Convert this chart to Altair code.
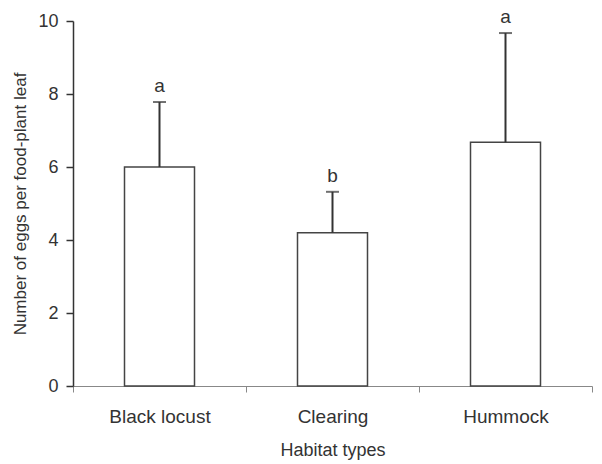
import altair as alt
import pandas as pd

habitats = ["Black locust", "Clearing", "Hummock"]
means = [6.0, 4.2, 6.68]
uppers = [7.78, 5.32, 9.67]
letters = ["a", "b", "a"]

df = pd.DataFrame({"habitat": habitats, "mean": means, "upper": uppers, "letter": letters})

FONT = "Liberation Sans"
TXT = "#333333"

common = dict(labelFont=FONT, titleFont=FONT, labelColor=TXT, titleColor=TXT,
              titleFontWeight="normal")

x = alt.X("habitat:N", sort=habitats, title="Habitat types",
          scale=alt.Scale(paddingInner=0, paddingOuter=0),
          axis=alt.Axis(labelAngle=0, tickBand="extent", domainColor="#888888",
                        tickColor="#888888", tickSize=6, labelPadding=15,
                        titlePadding=15, labelFontSize=19, titleFontSize=18, **common))
yscale = alt.Scale(domain=[0, 10], nice=False)

base = alt.Chart(df)

bars = base.mark_bar(fill="white", stroke="#444444", strokeWidth=1.5, width=70).encode(
    x=x,
    y=alt.Y("mean:Q", scale=yscale, title="Number of eggs per food-plant leaf",
            axis=alt.Axis(values=[0, 2, 4, 6, 8, 10], grid=False, domainColor="#333333",
                          domainWidth=1.5, tickColor="#333333", tickWidth=1.5, tickSize=7,
                          labelPadding=8, titlePadding=8, labelFontSize=18,
                          titleFontSize=17, **common)),
)

err = base.mark_rule(color="#333333", strokeWidth=2).encode(
    x=alt.X("habitat:N", sort=habitats), y="mean:Q", y2="upper:Q")

caps = base.mark_tick(color="#333333", thickness=2, size=13).encode(
    x=alt.X("habitat:N", sort=habitats), y="upper:Q")

labels = base.mark_text(fontSize=19, color=TXT, font=FONT, dy=-16).encode(
    x=alt.X("habitat:N", sort=habitats), y="upper:Q", text="letter:N")

chart = alt.layer(bars, err, caps, labels).properties(
    width=519, height=365,
    autosize=alt.AutoSizeParams(type="none"),
    padding={"left": 65, "top": 13, "right": 2, "bottom": 76},
    background="white",
).configure_view(stroke=None)

chart.save("out.html", embed_options={"renderer": "svg", "actions": False})
